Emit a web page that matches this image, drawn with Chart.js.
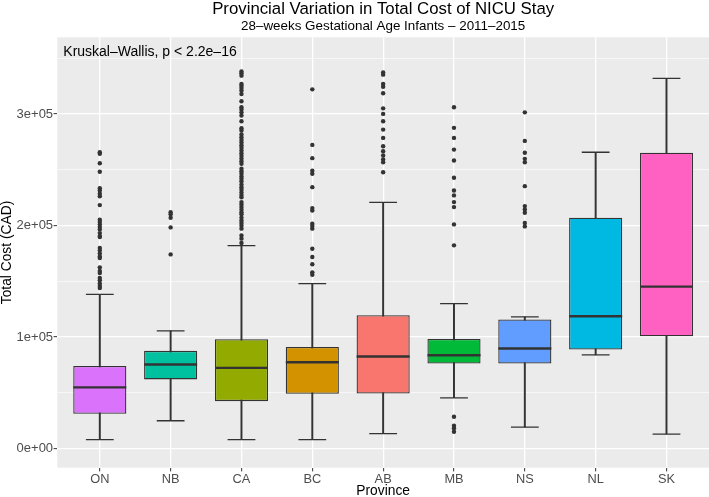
<!DOCTYPE html>
<html>
<head>
<meta charset="utf-8">
<script src="https://cdn.jsdelivr.net/npm/chart.js@4.4.1/dist/chart.umd.min.js"></script>
<style>
  html, body { margin: 0; padding: 0; background: #fff; }
  #wrap { width: 709px; height: 497px; }
</style>
</head>
<body>
<div id="wrap"><canvas id="costChart"></canvas></div>
<script>
// provinces in plotted order
const provinces = ["ON", "NB", "CA", "BC", "AB", "MB", "NS", "NL", "SK"];
const boxColors = ["#DB72FB", "#00C19F", "#93AA00", "#D39200", "#F8766D", "#00BA38", "#619CFF", "#00B9E3", "#FF61C3"];

// box statistics (CAD)
const lowerWhisker = [7900, 24900, 7900, 7900, 13300, 45500, 19200, 84000, 13000];
const q1 = [31200, 62000, 42500, 49100, 49400, 76300, 76300, 88800, 100700];
const median = [54800, 75400, 72300, 77400, 82500, 83700, 89700, 118600, 145200];
const q3 = [74100, 87600, 98000, 91100, 119500, 98300, 115700, 207000, 265200];
const upperWhisker = [138300, 105500, 181900, 147900, 220700, 130000, 118000, 265700, 332000];

// outliers per province
const outliersON = [265700, 264300, 255900, 248200, 233500, 231400, 228500, 226300, 218300, 205200, 203100, 201000, 198600, 196500, 193200, 190500, 189600, 179800, 177700, 174800, 172300, 170800, 162500, 159200, 157400, 152900, 150900, 147900, 145800, 144000];
const outliersNB = [212000, 210000, 207000, 198300, 174100];
const outliersCA = [338200, 336500, 334400, 327000, 325400, 323400, 321000, 318000, 311400, 306000, 304000, 301500, 298600, 293500, 287200, 285200, 281600, 279200, 276800, 274400, 272000, 269700, 267300, 264800, 262500, 260100, 257700, 255300, 250900, 248700, 246400, 244000, 241900, 239800, 236800, 234400, 232100, 229700, 227300, 225400, 221000, 218900, 216500, 214200, 211800, 210000, 207000, 204600, 202200, 199800, 197200, 191100, 188200, 184300];
const outliersBC = [322100, 272300, 260400, 249100, 246400, 234400, 215600, 213500, 201600, 199500, 197200, 179200, 171700, 165200, 158000, 155900];
const outliersAB = [337300, 335300, 327000, 324500, 318600, 305100, 300100, 293500, 286000, 278600, 271100, 266600, 262800, 259200, 256800, 247800];
const outliersMB = [306000, 287600, 278600, 268100, 258300, 242800, 231400, 227000, 221000, 216500, 201000, 182200, 28500, 20400, 18100, 15000];
const outliersNS = [301500, 275900, 265200, 259800, 256800, 235300, 217400, 214400, 211500, 202200, 199200];
const outliersNL = [];
const outliersSK = [];
const outliers = [outliersON, outliersNB, outliersCA, outliersBC, outliersAB, outliersMB, outliersNS, outliersNL, outliersSK];

// axis ticks
const yTickValues = [0, 50000, 100000, 150000, 200000, 250000, 300000, 350000];
const yTickLabels = ["0e+00", "", "1e+05", "", "2e+05", "", "3e+05", ""];

const titleText = "Provincial Variation in Total Cost of NICU Stay";
const subtitleText = "28–weeks Gestational Age Infants – 2011–2015";
const testText = "Kruskal–Wallis, p < 2.2e–16";

const FONT = "'Liberation Sans', Arial, Helvetica, sans-serif";

const outlierPoints = [];
outliers.forEach((list, i) => {
  list.forEach((v) => outlierPoints.push({ x: i + 1, y: v }));
});

const panelBackground = {
  id: "panelBackground",
  beforeDraw(chart) {
    const { ctx, chartArea: a } = chart;
    ctx.save();
    ctx.fillStyle = "#EBEBEB";
    ctx.fillRect(a.left, a.top, a.width, a.height);
    ctx.restore();
  },
};

const headings = {
  id: "headings",
  afterDraw(chart) {
    const { ctx, chartArea: a } = chart;
    const cx = (a.left + a.right) / 2;
    ctx.save();
    ctx.fillStyle = "#000";
    ctx.textAlign = "center";
    ctx.textBaseline = "alphabetic";
    ctx.font = "16.8px " + FONT;
    ctx.fillText(titleText, cx, 13.5);
    ctx.font = "13.4px " + FONT;
    ctx.fillText(subtitleText, cx, 29.5);
    ctx.textAlign = "left";
    ctx.textBaseline = "middle";
    ctx.font = "14px " + FONT;
    ctx.fillText(testText, a.left + 6, 52.5);
    ctx.restore();
  },
};

new Chart(document.getElementById("costChart"), {
  type: "bar",
  data: {
    datasets: [
      {
        type: "scatter",
        data: outlierPoints,
        backgroundColor: "#333333",
        borderWidth: 0,
        pointRadius: 2.2,
        order: 0,
      },
      {
        type: "scatter",
        data: provinces.map((p, i) => ({ x: i + 1, y: upperWhisker[i] }))
          .concat(provinces.map((p, i) => ({ x: i + 1, y: lowerWhisker[i] }))),
        pointStyle: "line",
        pointRadius: 13.9,
        borderColor: "#333333",
        borderWidth: 1.3,
        order: 1,
      },
      {
        type: "scatter",
        data: provinces.map((p, i) => ({ x: i + 1, y: median[i] })),
        pointStyle: "line",
        pointRadius: 26.5,
        borderColor: "#333333",
        borderWidth: 2.4,
        order: 2,
      },
      {
        data: provinces.map((p, i) => ({ x: i + 1, y: [q1[i], q3[i]] })),
        backgroundColor: boxColors,
        borderColor: "#333333",
        borderWidth: 1.3,
        borderSkipped: false,
        grouped: false,
        barPercentage: 0.75,
        categoryPercentage: 1,
        order: 3,
      },
      {
        data: provinces.map((p, i) => ({ x: i + 1, y: [lowerWhisker[i], upperWhisker[i]] })),
        backgroundColor: "#333333",
        borderWidth: 0,
        barThickness: 1.3,
        grouped: false,
        order: 4,
      },
    ],
  },
  options: {
    responsive: true,
    maintainAspectRatio: false,
    animation: false,
    layout: { autoPadding: false, padding: { top: 37.3, left: 0, right: 0, bottom: 0 } },
    plugins: {
      legend: { display: false },
      tooltip: { enabled: false },
    },
    scales: {
      x: {
        type: "linear",
        min: 0.4,
        max: 9.6,
        offset: false,
        afterBuildTicks(scale) {
          scale.ticks = provinces.map((p, i) => ({ value: i + 1 }));
        },
        afterFit(scale) {
          scale.height = 29.3;
          scale.paddingLeft = 0;
          scale.paddingRight = 0;
        },
        grid: {
          offset: false,
          color: "#FFFFFF",
          lineWidth: 1.3,
          tickLength: 3.7,
          tickColor: "#333333",
          tickWidth: 1,
        },
        border: { display: false },
        ticks: {
          color: "#4D4D4D",
          font: { family: FONT, size: 12.8 },
          padding: 0,
          autoSkip: false,
          maxRotation: 0,
          callback: (v) => provinces[v - 1] || "",
        },
        title: {
          display: true,
          text: "Province",
          color: "#000",
          font: { family: FONT, size: 13.8 },
          padding: { top: 0, bottom: -2.5 },
        },
      },
      y: {
        min: -17200,
        max: 368800,
        afterBuildTicks(scale) {
          scale.ticks = yTickValues.map((v) => ({ value: v }));
        },
        afterFit(scale) {
          scale.width = 57.3;
          scale.paddingTop = 0;
          scale.paddingBottom = 0;
        },
        grid: {
          color: "#FFFFFF",
          lineWidth: (c) => (c.tick && c.tick.value % 100000 === 0 ? 1.3 : 0.6),
          tickLength: 3.7,
          tickColor: (c) => (c.tick && c.tick.value % 100000 === 0 ? "#333333" : "rgba(0,0,0,0)"),
          tickWidth: 1,
        },
        border: { display: false },
        ticks: {
          color: "#4D4D4D",
          font: { family: FONT, size: 13 },
          padding: 0.5,
          autoSkip: false,
          callback: (v, i) => yTickLabels[i],
        },
        title: {
          display: true,
          text: "Total Cost (CAD)",
          color: "#000",
          font: { family: FONT, size: 13.8 },
          padding: { top: -1.5, bottom: 0 },
        },
      },
    },
  },
  plugins: [panelBackground, headings],
});
</script>
</body>
</html>
